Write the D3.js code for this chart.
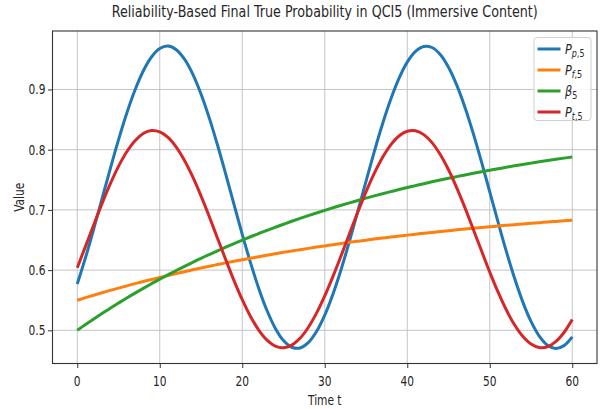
<!DOCTYPE html>
<html>
<head>
<meta charset="utf-8">
<script src="https://cdn.jsdelivr.net/npm/d3@7/dist/d3.min.js"></script>
<style>
  html, body { margin: 0; padding: 0; background: #ffffff; }
  svg { display: block; }
  text { font-family: "DejaVu Sans", sans-serif; fill: #262626; }
</style>
</head>
<body>
<svg id="chart" width="600" height="409"></svg>
<script>
// Time steps
const timeSteps = d3.range(0, 61);

// Predicted probability P_p,5
const predictedProb = [
  0.5770, 0.6207, 0.6684, 0.7182, 0.7682, 0.8162, 0.8604, 0.8991, 0.9307, 0.9539,
  0.9679, 0.9720, 0.9661, 0.9504, 0.9256, 0.8926, 0.8528, 0.8077, 0.7592, 0.7091,
  0.6595, 0.6124, 0.5696, 0.5329, 0.5036, 0.4830, 0.4719, 0.4707, 0.4795, 0.4980,
  0.5253, 0.5604, 0.6019, 0.6482, 0.6974, 0.7475, 0.7966, 0.8426, 0.8838, 0.9185,
  0.9454, 0.9632, 0.9715, 0.9697, 0.9581, 0.9369, 0.9072, 0.8701, 0.8270, 0.7796,
  0.7300, 0.6800, 0.6316, 0.5868, 0.5473, 0.5148, 0.4904, 0.4753, 0.4700, 0.4746,
  0.4892
];

// Feedback probability P_f,5
const feedbackProb = [
  0.5500, 0.5542, 0.5583, 0.5624, 0.5663, 0.5701, 0.5738, 0.5775, 0.5810, 0.5845,
  0.5878, 0.5911, 0.5943, 0.5974, 0.6005, 0.6035, 0.6064, 0.6092, 0.6120, 0.6147,
  0.6173, 0.6198, 0.6223, 0.6248, 0.6272, 0.6295, 0.6317, 0.6339, 0.6361, 0.6382,
  0.6402, 0.6422, 0.6442, 0.6461, 0.6479, 0.6497, 0.6515, 0.6532, 0.6549, 0.6565,
  0.6581, 0.6596, 0.6612, 0.6626, 0.6641, 0.6655, 0.6669, 0.6682, 0.6695, 0.6708,
  0.6720, 0.6732, 0.6744, 0.6755, 0.6767, 0.6778, 0.6788, 0.6799, 0.6809, 0.6819,
  0.6828
];

// Reliability weight beta_5
const reliabilityWeight = [
  0.5000, 0.5096, 0.5189, 0.5279, 0.5368, 0.5453, 0.5537, 0.5618, 0.5697, 0.5774,
  0.5850, 0.5922, 0.5994, 0.6063, 0.6130, 0.6196, 0.6259, 0.6321, 0.6382, 0.6441,
  0.6498, 0.6554, 0.6608, 0.6661, 0.6712, 0.6762, 0.6811, 0.6858, 0.6904, 0.6949,
  0.6993, 0.7036, 0.7077, 0.7117, 0.7156, 0.7195, 0.7232, 0.7268, 0.7303, 0.7338,
  0.7371, 0.7403, 0.7435, 0.7466, 0.7496, 0.7525, 0.7553, 0.7581, 0.7608, 0.7634,
  0.7659, 0.7684, 0.7708, 0.7732, 0.7755, 0.7777, 0.7799, 0.7820, 0.7840, 0.7860,
  0.7880
];

// Final true probability P_t,5
const finalTrueProb = [
  0.6039, 0.6394, 0.6754, 0.7105, 0.7432, 0.7723, 0.7965, 0.8150, 0.8269, 0.8319,
  0.8296, 0.8203, 0.8042, 0.7820, 0.7547, 0.7232, 0.6889, 0.6530, 0.6172, 0.5826,
  0.5509, 0.5231, 0.5005, 0.4838, 0.4739, 0.4711, 0.4754, 0.4867, 0.5047, 0.5285,
  0.5572, 0.5896, 0.6245, 0.6605, 0.6961, 0.7300, 0.7607, 0.7871, 0.8081, 0.8228,
  0.8307, 0.8314, 0.8250, 0.8117, 0.7919, 0.7666, 0.7367, 0.7034, 0.6680, 0.6320,
  0.5967, 0.5637, 0.5341, 0.5092, 0.4900, 0.4772, 0.4714, 0.4727, 0.4812, 0.4964,
  0.5179
];

const seriesLabels = [
  { base: "P", sub: [["p", true], [",", false], ["5", false]] },
  { base: "P", sub: [["f", true], [",", false], ["5", false]] },
  { base: "β", sub: [["5", false]] },
  { base: "P", sub: [["t", true], [",", false], ["5", false]] }
];
const seriesValues = [predictedProb, feedbackProb, reliabilityWeight, finalTrueProb];
const seriesColors = ["#1f77b4", "#ff7f0e", "#2ca02c", "#d62728"];

const xTicks = [0, 10, 20, 30, 40, 50, 60];
const yTicks = [0.5, 0.6, 0.7, 0.8, 0.9];

const titleText = "Reliability-Based Final True Probability in QCI5 (Immersive Content)";
const xLabelText = "Time t";
const yLabelText = "Value";

// ---- layout ----
const svg = d3.select("#chart");
const plot = { left: 52.5, right: 597, top: 31, bottom: 363.5 };
const textScaleX = 0.76;

// autoscale with 5% margins on both axes
const padExtent = ([a, b]) => { const m = (b - a) * 0.05; return [a - m, b + m]; };
const xDomain = padExtent(d3.extent(timeSteps));
const yDomain = padExtent([d3.min(seriesValues, s => d3.min(s)), d3.max(seriesValues, s => d3.max(s))]);

const x = d3.scaleLinear().domain(xDomain).range([plot.left, plot.right]);
const y = d3.scaleLinear().domain(yDomain).range([plot.bottom, plot.top]);

function addText(parent, px, py, str, opts = {}) {
  const { size = 14, anchor = "start", rotate = 0, sx = textScaleX } = opts;
  return parent.append("text")
    .attr("transform", `translate(${px},${py}) rotate(${rotate}) scale(${sx},1)`)
    .attr("text-anchor", anchor)
    .attr("font-size", size)
    .text(str);
}

// grid
const grid = svg.append("g").attr("class", "grid");
grid.selectAll("line.vx").data(xTicks).join("line")
  .attr("x1", d => x(d)).attr("x2", d => x(d))
  .attr("y1", plot.top).attr("y2", plot.bottom)
  .attr("stroke", "#c4c4c4").attr("stroke-width", 1);
grid.selectAll("line.hy").data(yTicks).join("line")
  .attr("x1", plot.left).attr("x2", plot.right)
  .attr("y1", d => y(d)).attr("y2", d => y(d))
  .attr("stroke", "#c4c4c4").attr("stroke-width", 1);

// series lines
const line = d3.line().curve(d3.curveCatmullRom);
const lines = svg.append("g").attr("class", "series");
seriesValues.forEach((vals, i) => {
  lines.append("path")
    .datum(vals.map((v, k) => [x(timeSteps[k]), y(v)]))
    .attr("d", line)
    .attr("fill", "none")
    .attr("stroke", seriesColors[i])
    .attr("stroke-width", 3)
    .attr("stroke-linecap", "butt")
    .attr("stroke-linejoin", "round");
});

// axes
const xAxis = svg.append("g")
  .attr("transform", `translate(0,${plot.bottom})`)
  .call(d3.axisBottom(x).tickValues(xTicks).tickSize(4.5).tickSizeOuter(0).tickFormat(""));
const yAxis = svg.append("g")
  .attr("transform", `translate(${plot.left},0)`)
  .call(d3.axisLeft(y).tickValues(yTicks).tickSize(4.5).tickSizeOuter(0).tickFormat(""));
[xAxis, yAxis].forEach(a => {
  a.select(".domain").remove();
  a.selectAll(".tick line").attr("stroke", "#333").attr("stroke-width", 1);
});

// frame
svg.append("rect")
  .attr("x", plot.left).attr("y", plot.top)
  .attr("width", plot.right - plot.left).attr("height", plot.bottom - plot.top)
  .attr("fill", "none").attr("stroke", "#333").attr("stroke-width", 1.1);

// tick labels
const labels = svg.append("g");
xTicks.forEach(t => addText(labels, x(t), 386, d3.format("d")(t), { anchor: "middle" }));
yTicks.forEach(v => addText(labels, 45.5, y(v) + 5, d3.format(".1f")(v), { anchor: "end" }));

// axis titles and chart title
addText(svg, (plot.left + plot.right) / 2, 405, xLabelText, { anchor: "middle" });
addText(svg, 24, (plot.top + plot.bottom) / 2, yLabelText, { anchor: "middle", rotate: -90 });
addText(svg, (plot.left + plot.right) / 2, 17, titleText, { anchor: "middle", size: 15.5, sx: 0.82 });

// legend
const legend = svg.append("g").attr("class", "legend");
legend.append("rect")
  .attr("x", 534).attr("y", 37.5).attr("width", 57).attr("height", 83)
  .attr("rx", 3).attr("fill", "#ffffff").attr("fill-opacity", 0.85)
  .attr("stroke", "#d0d0d0").attr("stroke-width", 1);
const rowY = [49, 70, 91, 112];
seriesLabels.forEach((lab, i) => {
  legend.append("line")
    .attr("x1", 537.5).attr("x2", 560.5)
    .attr("y1", rowY[i]).attr("y2", rowY[i])
    .attr("stroke", seriesColors[i]).attr("stroke-width", 3);
  const t = legend.append("text")
    .attr("transform", `translate(565,${rowY[i] + 5}) scale(0.8,1)`)
    .attr("font-size", 14);
  t.append("tspan").attr("font-style", "italic").text(lab.base);
  lab.sub.forEach(([s, it], k) => {
    const ts = t.append("tspan").attr("font-size", 10)
      .attr("font-style", it ? "italic" : "normal").text(s);
    if (k === 0) ts.attr("dy", 3);
  });
});
</script>
</body>
</html>
